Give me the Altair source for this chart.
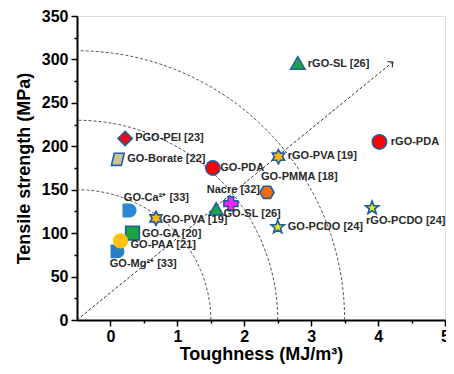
import altair as alt
import numpy as np
import pandas as pd

# ---------------- data ----------------
names = ["rGO-SL [26]", "rGO-PDA", "PGO-PEI [23]", "GO-Borate [22]", "GO-PDA",
         "rGO-PVA [19]", "GO-PMMA [18]", "Nacre [32]", "GO-SL [26]", "GO-PCDO [24]",
         "rGO-PCDO [24]", "GO-Ca²⁺ [33]", "GO-PVA [19]", "GO-GA [20]",
         "GO-Mg²⁺ [33]", "GO-PAA [21]"]
toughness = [2.80, 4.02, 0.22, 0.11, 1.53, 2.51, 2.34, 1.80, 1.58, 2.50,
             3.91, 0.28, 0.68, 0.33, 0.10, 0.15]
strength = [296, 205, 209, 185, 175, 188, 147, 134, 128, 107,
            129, 126, 117, 100, 79, 91]
# label anchor positions (data units)
label_x = [2.95, 4.19, 0.37, 0.25, 1.64, 2.65, 2.25, 1.44, 1.69, 2.65,
           3.82, 0.20, 0.78, 0.47, -0.01, 0.30]
label_y = [295, 205, 209.5, 185.5, 175, 189, 165, 150, 121.5, 107,
           114, 140, 115, 99, 64, 86]

# guide curves (quarter ellipses from the lower-left corner)
curve_rx = [2.0, 3.0, 4.0]
curve_ry = [150, 230, 310]
# arrow
arrow_x = [-0.5, 4.22]
arrow_y = [0, 297]

x_ticks = [0, 0.5, 1, 1.5, 2, 2.5, 3, 3.5, 4, 4.5, 5]
y_ticks = [0, 25, 50, 75, 100, 125, 150, 175, 200, 225, 250, 275, 300, 325, 350]

# ---------------- styles ----------------
EDGE = "#1f5f9e"
STAR = ("M0,-1 L0.247,-0.34 L0.951,-0.309 L0.399,0.13 L0.588,0.809 L0,0.42 "
        "L-0.588,0.809 L-0.399,0.13 L-0.951,-0.309 L-0.247,-0.34 Z")
HEXAGRAM = ("M0,-1 L0.289,-0.5 L0.866,-0.5 L0.577,0 L0.866,0.5 L0.289,0.5 L0,1 "
            "L-0.289,0.5 L-0.866,0.5 L-0.577,0 L-0.866,-0.5 L-0.289,-0.5 Z")
HEXAGON = "M1,0 L0.5,0.866 L-0.5,0.866 L-1,0 L-0.5,-0.866 L0.5,-0.866 Z"
PARA = "M-0.9,0.85 L-0.5,-0.85 L0.9,-0.85 L0.5,0.85 Z"
DSHAPE = "M-0.85,-0.9 L0.05,-0.9 A0.9,0.9 0 0 1 0.05,0.9 L-0.85,0.9 Z"
CHEVRON = "M-0.8,0.8 L0,0 L0.8,0.8"

style = {
    "rGO-SL [26]": ("triangle-up", "#1fa24a", EDGE, 210, 1.5),
    "rGO-PDA": ("circle", "#ff0000", EDGE, 180, 1.8),
    "PGO-PEI [23]": ("diamond", "#e0101a", EDGE, 220, 1.5),
    "GO-Borate [22]": (PARA, "#cdc29a", EDGE, 180, 1.5),
    "GO-PDA": ("circle", "#ff0000", EDGE, 180, 1.8),
    "rGO-PVA [19]": (HEXAGRAM, "#f6b40e", EDGE, 230, 1.5),
    "GO-PMMA [18]": (HEXAGON, "#f26c0d", EDGE, 170, 1.5),
    "Nacre [32]": ("cross", "#ff1cff", EDGE, 200, 1.5),
    "GO-SL [26]": ("triangle-up", "#1fa24a", EDGE, 210, 1.5),
    "GO-PCDO [24]": (STAR, "#e6ee1c", EDGE, 300, 2.2),
    "rGO-PCDO [24]": (STAR, "#e6ee1c", EDGE, 300, 2.2),
    "GO-Ca²⁺ [33]": (DSHAPE, "#2b88d4", "#2b88d4", 200, 0.5),
    "GO-PVA [19]": (HEXAGRAM, "#f6b40e", EDGE, 230, 1.5),
    "GO-GA [20]": ("square", "#1aa33e", EDGE, 150, 1.8),
    "GO-Mg²⁺ [33]": (DSHAPE, "#2a7fc4", "#2a7fc4", 200, 0.5),
    "GO-PAA [21]": ("circle", "#ffc20e", "#ffc20e", 190, 0.5),
}

FONT = "Liberation Sans"

pts = pd.DataFrame({"name": names, "t": toughness, "s": strength,
                    "lx": label_x, "ly": label_y, "order": list(range(len(names)))})

xs = alt.Scale(domain=[-0.5, 5], nice=False, zero=False)
ys = alt.Scale(domain=[0, 350], nice=False)

# guide curves
rows = []
ang = np.linspace(0, np.pi / 2, 60)
for i, (rx, ry) in enumerate(zip(curve_rx, curve_ry)):
    for k, a in enumerate(ang):
        rows.append({"c": i, "k": k, "x": -0.5 + rx * np.cos(a), "y": ry * np.sin(a)})
curves_df = pd.DataFrame(rows)

axis_common = dict(grid=False, domainColor="black", domainWidth=2, tickColor="black",
                   tickWidth=1.5, labelColor="black", labelFont=FONT, labelFontSize=16,
                   labelFontWeight="bold", titleFont=FONT, titleFontSize=18,
                   titleFontWeight="bold", titleColor="black", labelOverlap=False)

x_axis = alt.Axis(values=x_ticks, title="Toughness (MJ/m³)",
                  labelExpr="datum.value % 1 === 0 ? format(datum.value, 'd') : ''",
                  tickSize={"condition": {"test": "datum.value % 1 === 0", "value": 6}, "value": 3},
                  labelPadding=2, titlePadding=1, labelFlush=False, **axis_common)
y_axis = alt.Axis(values=y_ticks, title="Tensile strength (MPa)",
                  labelExpr="datum.value % 50 === 0 ? format(datum.value, 'd') : ''",
                  tickSize={"condition": {"test": "datum.value % 50 === 0", "value": 6}, "value": 3},
                  labelPadding=3, titlePadding=8, labelFlush=False, **axis_common)

points = alt.Chart(pts).mark_point(filled=True, opacity=1).encode(
    x=alt.X("t:Q", scale=xs, axis=x_axis),
    y=alt.Y("s:Q", scale=ys, axis=y_axis),
    shape=alt.Shape("name:N", legend=None,
                    scale=alt.Scale(domain=names, range=[style[n][0] for n in names])),
    fill=alt.Fill("name:N", legend=None,
                  scale=alt.Scale(domain=names, range=[style[n][1] for n in names])),
    stroke=alt.Stroke("name:N", legend=None,
                      scale=alt.Scale(domain=names, range=[style[n][2] for n in names])),
    size=alt.Size("name:N", legend=None,
                  scale=alt.Scale(domain=names, range=[style[n][3] for n in names])),
    strokeWidth=alt.StrokeWidth("name:N", legend=None,
                                scale=alt.Scale(domain=names, range=[style[n][4] for n in names])),
    order="order:Q",
)

curves = alt.Chart(curves_df).mark_line(
    color="#555555", strokeWidth=1, strokeDash=[3, 2], clip=True
).encode(
    x=alt.X("x:Q", scale=xs, axis=x_axis),
    y=alt.Y("y:Q", scale=ys, axis=y_axis),
    detail="c:N", order="k:Q")

arrow_df = pd.DataFrame({"x": arrow_x, "y": arrow_y})
arrow_line = alt.Chart(arrow_df).mark_line(
    color="#333333", strokeWidth=1, strokeDash=[3, 2]
).encode(x=alt.X("x:Q", scale=xs, axis=x_axis), y=alt.Y("y:Q", scale=ys, axis=y_axis))

arrow_head = alt.Chart(arrow_df.iloc[[1]]).mark_point(
    shape=CHEVRON, filled=False, stroke="#333333", strokeWidth=1.2, size=90, angle=51, opacity=1
).encode(x=alt.X("x:Q", scale=xs, axis=x_axis), y=alt.Y("y:Q", scale=ys, axis=y_axis))

labels = alt.Chart(pts).mark_text(
    align="left", baseline="middle", font=FONT, fontSize=11, fontWeight="bold", color="#2a2a2a"
).encode(x=alt.X("lx:Q", scale=xs, axis=x_axis), y=alt.Y("ly:Q", scale=ys, axis=y_axis),
         text="name:N")

chart = alt.layer(curves, arrow_line, arrow_head, points, labels).resolve_scale(
    shape="independent", fill="independent", stroke="independent",
    size="independent", strokeWidth="independent"
).properties(
    width=368, height=304,
    autosize=alt.AutoSizeParams(type="none"),
    padding={"left": 69, "top": 8, "right": 1, "bottom": 46},
).configure_view(stroke="black", strokeWidth=2).configure(background="white")

chart.save("out.html", embed_options={"renderer": "svg", "actions": False})
